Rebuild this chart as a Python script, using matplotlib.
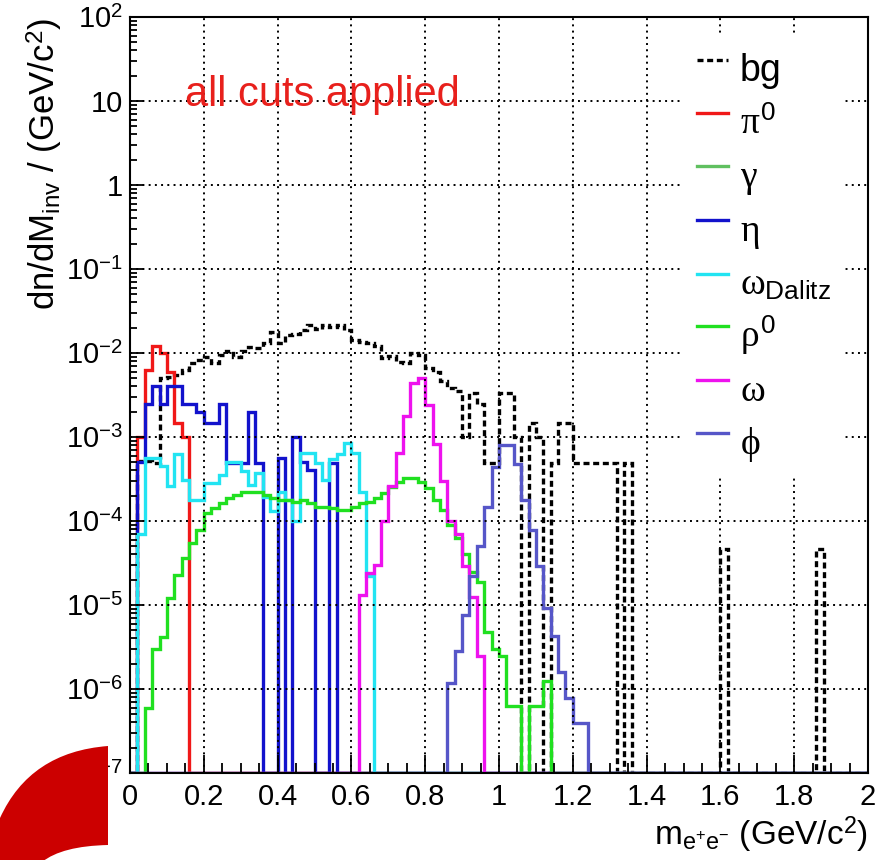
import numpy as np
import matplotlib
matplotlib.use('Agg')
import matplotlib.pyplot as plt
from matplotlib.path import Path
from matplotlib.patches import PathPatch
from matplotlib.ticker import MultipleLocator, LogLocator, NullFormatter, FuncFormatter

plt.rcParams['font.family'] = ['Liberation Sans', 'DejaVu Sans']
plt.rcParams['mathtext.fontset'] = 'custom'
plt.rcParams['mathtext.rm'] = 'Liberation Sans'
plt.rcParams['mathtext.it'] = 'Liberation Serif'
plt.rcParams['mathtext.bf'] = 'Liberation Sans:bold'

# === DATA: 100 bins of 0.02 GeV/c^2, each series = first bin index + bin contents ===
n_bins = 100
x_max = 2.0
y_min, y_max = 1e-7, 1e2

bg_start = 1
bg_vals = [5.2e-4, 5.2e-4, 4.9e-4, 5.0e-3, 5.2e-3, 5.5e-3, 6.3e-3, 7.6e-3, 8.3e-3, 8.9e-3,
           7.6e-3, 9.5e-3, 1.05e-2, 8.9e-3, 1.05e-2, 1.17e-2, 1.15e-2, 1.32e-2, 1.78e-2, 1.32e-2,
           1.62e-2, 1.70e-2, 1.86e-2, 2.14e-2, 1.95e-2, 2.14e-2, 2.04e-2, 2.14e-2, 1.86e-2, 1.41e-2,
           1.35e-2, 1.32e-2, 1.20e-2, 8.7e-3, 9.1e-3, 7.9e-3, 7.6e-3, 1.0e-2, 9.5e-3, 6.6e-3,
           6.0e-3, 4.6e-3, 3.8e-3, 3.5e-3, 1.0e-3, 3.3e-3, 2.5e-3, 4.9e-4, 4.9e-4, 3.3e-3,
           3.3e-3, 1.0e-3, 0, 1.45e-3, 1.0e-3, 0, 4.9e-4, 1.45e-3, 1.45e-3, 4.9e-4,
           4.9e-4, 4.9e-4, 4.9e-4, 4.9e-4, 4.9e-4, 0, 4.9e-4, 0, 0, 0,
           0, 0, 0, 0, 0, 0, 0, 0, 0, 4.7e-5,
           0, 0, 0, 0, 0, 0, 0, 0, 0, 0,
           0, 0, 4.7e-5]

pi0_start = 1
pi0_vals = [1.0e-3, 6.3e-3, 1.2e-2, 1.0e-2, 6.0e-3, 1.45e-3, 1.0e-3]

gamma_start = 0
gamma_vals = []

eta_start = 1
eta_vals = [5.0e-4, 2.5e-3, 4.0e-3, 2.5e-3, 4.0e-3, 4.0e-3, 2.5e-3, 2.5e-3, 2.0e-3, 1.45e-3,
            1.45e-3, 2.5e-3, 4.9e-4, 4.9e-4, 4.9e-4, 2.0e-3, 4.9e-4, 0, 0, 5.6e-4,
            0, 1.0e-3, 5.0e-4, 4.0e-4, 0, 0, 4.9e-4]

omd_start = 1
omd_vals = [7.0e-5, 5.7e-4, 5.7e-4, 4.5e-4, 2.6e-4, 6.3e-4, 3.1e-4, 1.8e-4, 1.8e-4, 2.8e-4,
            2.8e-4, 3.5e-4, 5.0e-4, 5.0e-4, 3.9e-4, 2.7e-4, 3.7e-4, 1.95e-4, 1.3e-4, 2.2e-4,
            1.8e-4, 1.0e-4, 6.5e-4, 6.5e-4, 4.9e-4, 3.1e-4, 5.4e-4, 6.2e-4, 8.5e-4, 6.5e-4,
            2.2e-4, 2.2e-5]

rho_start = 2
rho_vals = [5.9e-7, 3.0e-6, 4.2e-6, 1.2e-5, 2.3e-5, 3.6e-5, 5.4e-5, 7.8e-5, 1.23e-4, 1.41e-4,
            1.62e-4, 1.86e-4, 2.04e-4, 2.19e-4, 2.24e-4, 2.24e-4, 2.04e-4, 1.86e-4, 1.78e-4, 1.78e-4,
            1.70e-4, 1.78e-4, 1.62e-4, 1.48e-4, 1.48e-4, 1.41e-4, 1.35e-4, 1.35e-4, 1.48e-4, 1.62e-4,
            1.70e-4, 1.86e-4, 2.14e-4, 2.57e-4, 2.95e-4, 3.24e-4, 3.24e-4, 2.95e-4, 2.45e-4, 1.78e-4,
            1.35e-4, 8.9e-5, 6.3e-5, 4.0e-5, 2.5e-5, 1.9e-5, 4.8e-6, 3.0e-6, 2.5e-6, 6.2e-7,
            6.2e-7, 0, 6.2e-7, 6.2e-7, 1.23e-6]

omega_start = 31
omega_vals = [1.3e-5, 2.4e-5, 3.0e-5, 1.0e-4, 2.6e-4, 6.5e-4, 1.8e-3, 4.4e-3, 5.0e-3, 2.4e-3,
              8.3e-4, 3.0e-4, 1.0e-4, 7.0e-5, 2.9e-5, 1.25e-5, 2.5e-6]

phi_start = 43
phi_vals = [1.17e-6, 2.8e-6, 7.6e-6, 2.2e-5, 5.0e-5, 1.45e-4, 4.4e-4, 8.1e-4, 8.1e-4, 4.8e-4,
            1.8e-4, 7.9e-5, 2.9e-5, 9.3e-6, 4.3e-6, 1.6e-6, 7.9e-7, 3.9e-7, 3.9e-7]

labels = ['bg', r'$\pi^{0}$', r'$\gamma$', r'$\eta$', r'$\omega_{\mathrm{Dalitz}}$',
          r'$\rho^{0}$', r'$\omega$', r'$\phi$']
colors = ['black', '#f01818', '#60c060', '#1212cc', '#22e4f2', '#20e020', '#ee12ee', '#5656c8']

y_tick_vals = [1e-7, 1e-6, 1e-5, 1e-4, 1e-3, 1e-2, 1e-1, 1, 10, 100]
y_tick_labels = ['10$^{-7}$', '10$^{-6}$', '10$^{-5}$', '10$^{-4}$', '10$^{-3}$',
                 '10$^{-2}$', '10$^{-1}$', '1', '10', '10$^{2}$']


def to_hist(start, vals):
    h = np.zeros(n_bins)
    h[start:start + len(vals)] = vals
    # empty bins are drawn on the axis floor like ROOT does
    return np.where(h > 0, h, y_min)


series = [(bg_start, bg_vals), (pi0_start, pi0_vals), (gamma_start, gamma_vals),
          (eta_start, eta_vals), (omd_start, omd_vals), (rho_start, rho_vals),
          (omega_start, omega_vals), (phi_start, phi_vals)]

edges = np.linspace(0, x_max, n_bins + 1)

W, H = 888, 860
fig = plt.figure(figsize=(W / 100, H / 100), dpi=100)
ax = fig.add_axes([130 / W, 1 - 773 / H, 738 / W, 756 / H])

for i, (st, vals) in enumerate(series):
    h = to_hist(st, vals)
    kw = dict(color=colors[i], lw=2.4, label=labels[i], baseline=y_min, joinstyle='miter')
    if i == 0:
        kw['linestyle'] = (0, (1.8, 1.1))
    ax.stairs(h, edges, **kw)

ax.set_yscale('log')
ax.set_xlim(0, x_max)
ax.set_ylim(y_min, y_max)

ax.set_yticks(y_tick_vals)
ax.set_yticklabels(y_tick_labels)
ax.yaxis.set_minor_locator(LogLocator(base=10, subs=np.arange(2, 10), numticks=20))
ax.yaxis.set_minor_formatter(NullFormatter())
ax.xaxis.set_major_locator(MultipleLocator(0.2))
ax.xaxis.set_minor_locator(MultipleLocator(0.05))
ax.xaxis.set_major_formatter(FuncFormatter(lambda v, p: f'{v:g}'))

ax.tick_params(axis='both', which='both', direction='in', top=False, right=False,
               width=1.3, labelsize=21)
ax.tick_params(axis='x', which='major', length=13, pad=7)
ax.tick_params(axis='x', which='minor', length=7)
ax.tick_params(axis='y', which='major', length=10, pad=5)
ax.tick_params(axis='y', which='minor', length=5)
for s in ax.spines.values():
    s.set_linewidth(1.5)

ax.grid(True, which='major', color='black', linestyle=(0, (1, 2.2)), linewidth=1.4)

ax.text(0.26, 0.897, 'all cuts applied', transform=ax.transAxes, color='#e8201c',
        fontsize=30, ha='center', va='center')

leg = ax.legend(loc='upper left', bbox_to_anchor=((683 - 130) / 738, (773 - 34) / 756),
                borderaxespad=0, fontsize=27, frameon=True, fancybox=False,
                facecolor='white', edgecolor='none', framealpha=1,
                handlelength=0.83, handletextpad=0.32, handleheight=1.35,
                labelspacing=0.28, borderpad=0.37)

fig.text(45 / W, 1 - 18 / H, r'dn/dM$_{\mathrm{inv}}$ / (GeV/c$^{2}$)', rotation=90,
         ha='center', va='top', fontsize=25)
fig.text(868 / W, 1 - 835 / H, r'm$_{\mathrm{e^{+}e^{-}}}$ (GeV/c$^{2}$)',
         ha='right', va='center', fontsize=24)

# red slide decoration in the lower left corner
def fp(x, y):
    return (x / W, 1 - y / H)

verts = [fp(0, 818), fp(30, 752), fp(108, 746), fp(108, 845), fp(62, 846), fp(42, 862),
         fp(0, 862), fp(0, 818)]
codes = [Path.MOVETO, Path.CURVE3, Path.CURVE3, Path.LINETO, Path.CURVE3, Path.CURVE3,
         Path.LINETO, Path.CLOSEPOLY]
fig.add_artist(PathPatch(Path(verts, codes), transform=fig.transFigure,
                         facecolor='#cc0000', edgecolor='none', zorder=10))

fig.savefig('out.png', dpi=100)
